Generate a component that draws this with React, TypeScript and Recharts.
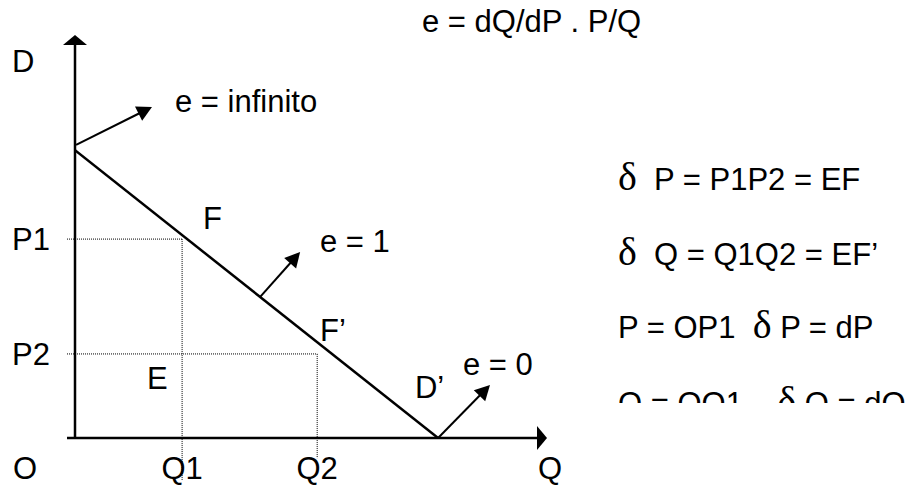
import { LineChart, Line, XAxis, YAxis, ReferenceLine, ReferenceDot } from "recharts";

// demand curve D - D'
const DEMAND_Q = [0, 10];
const DEMAND_P = [10, 0];

// axis extents
const Q_MAX = 13;
const P_MAX = 14;
const AXIS_START = -0.22;

// tick values and labels
const Q_TICKS = [2.95, 6.67];
const Q_TICK_LABELS = ["Q1", "Q2"];
const P_TICKS = [6.91, 2.92];
const P_TICK_LABELS = ["P1", "P2"];
// how far the dotted verticals drop below the Q axis
const GUIDE_DROP = [-1.46, -0.7];

// elasticity arrows
const ARROW_BASE_Q = [0.03, 5.1, 10];
const ARROW_BASE_P = [10.18, 4.9, 0];
const ARROW_TIP_Q = [2.12, 6.2, 11.43];
const ARROW_TIP_P = [11.5, 6.46, 1.84];

// text notes on the diagram
const NOTE_TEXT = ["e = dQ/dP . P/Q", "D", "e = infinito", "F", "e = 1", "F\u2019", "E", "D\u2019", "e = 0", "O", "Q"];
const NOTE_Q = [9.557, -1.735, 2.754, 3.525, 6.748, 6.748, 1.983, 9.364, 10.686, -1.708, 12.75];
const NOTE_P = [14.1, 12.71, 11.325, 7.26, 6.46, 3.37, 1.7, 1.39, 2.19, -1.42, -1.42];

// formulas on the right
const FORMULAS = ["δ  P = P1P2 = EF", "δ  Q = Q1Q2 = EF\u2019", "P = OP1  δ P = dP", "Q = OQ1    δ Q = dQ"];
const FORMULA_Q = 14.955;
const FORMULA_P = [8.615, 6.01, 3.474, 0.834];

const FONT = "'Liberation Sans', Arial, sans-serif";
const SERIF = "'Liberation Serif', 'Times New Roman', serif";
const SIZE = 31;

const data = DEMAND_Q.map((q, i) => ({ q, p: DEMAND_P[i] }));

function arrowShape(head: number, half: number, width: number) {
  return (props: any) => {
    const { x1, y1, x2, y2 } = props;
    const dx = x2 - x1;
    const dy = y2 - y1;
    const len = Math.hypot(dx, dy) || 1;
    const ux = dx / len;
    const uy = dy / len;
    const bx = x2 - ux * head;
    const by = y2 - uy * head;
    const pts = `${x2},${y2} ${bx - uy * half},${by + ux * half} ${bx + uy * half},${by - ux * half}`;
    return (
      <g>
        <line x1={x1} y1={y1} x2={bx + ux} y2={by + uy} stroke="#000" strokeWidth={width} />
        <polygon points={pts} fill="#000" />
      </g>
    );
  };
}

const axisArrow = arrowShape(10, 12, 2.5);
const smallArrow = arrowShape(15, 8, 2);

const noteShape = (text: string) => (props: any) => (
  <text x={props.cx} y={props.cy} fontFamily={FONT} fontSize={SIZE} fill="#000" style={{ whiteSpace: "pre" }}>
    {text}
  </text>
);

const formulaShape = (text: string, clipped: boolean) => (props: any) => {
  const parts = text.split("δ");
  const id = "formula-clip";
  return (
    <g>
      {clipped && (
        <defs>
          <clipPath id={id}>
            <rect x={0} y={0} width={2000} height={props.cy - 11} />
          </clipPath>
        </defs>
      )}
      <text
        x={props.cx}
        y={props.cy}
        fontFamily={FONT}
        fontSize={SIZE}
        fill="#000"
        style={{ whiteSpace: "pre" }}
        clipPath={clipped ? `url(#${id})` : undefined}
      >
        {parts.map((part, i) => (
          <tspan key={i}>
            {i > 0 && (
              <tspan fontFamily={SERIF} fontSize={40}>
                δ
              </tspan>
            )}
            {part}
          </tspan>
        ))}
      </text>
    </g>
  );
};

const QTick = (props: any) => {
  const { x, y, index } = props;
  return (
    <text x={x} y={y + 41} textAnchor="middle" fontFamily={FONT} fontSize={SIZE} fill="#000">
      {Q_TICK_LABELS[index]}
    </text>
  );
};

const PTick = (props: any) => {
  const { x, y, index } = props;
  return (
    <text x={x - 63} y={y + 11} textAnchor="start" fontFamily={FONT} fontSize={SIZE} fill="#000">
      {P_TICK_LABELS[index]}
    </text>
  );
};

export default function App() {
  return (
    <div style={{ width: 919, height: 485, background: "#fff", overflow: "hidden" }}>
      <style>{"body{margin:0;background:#fff}"}</style>
      <LineChart width={919} height={485} data={data} margin={{ top: 35, right: 372, bottom: 0, left: 0 }}>
        <XAxis
          dataKey="q"
          type="number"
          domain={[0, Q_MAX]}
          allowDataOverflow
          ticks={Q_TICKS}
          tick={<QTick />}
          tickSize={0}
          tickMargin={0}
          tickLine={false}
          axisLine={false}
          height={47}
          interval={0}
        />
        <YAxis
          type="number"
          domain={[0, P_MAX]}
          allowDataOverflow
          ticks={P_TICKS}
          tick={<PTick />}
          tickSize={0}
          tickMargin={0}
          tickLine={false}
          axisLine={false}
          width={75}
          interval={0}
        />

        {/* dotted guides for P1/Q1 and P2/Q2 */}
        {P_TICKS.map((p, i) => (
          <ReferenceLine
            key={`h${i}`}
            segment={[{ x: AXIS_START, y: p }, { x: Q_TICKS[i], y: p }]}
            stroke="#000"
            strokeWidth={1}
            strokeDasharray="1 1"
            ifOverflow="visible"
          />
        ))}
        {Q_TICKS.map((q, i) => (
          <ReferenceLine
            key={`v${i}`}
            segment={[{ x: q, y: P_TICKS[i] }, { x: q, y: GUIDE_DROP[i] }]}
            stroke="#000"
            strokeWidth={1}
            strokeDasharray="1 1"
            ifOverflow="visible"
          />
        ))}

        {/* axes with arrowheads */}
        <ReferenceLine segment={[{ x: 0, y: 0 }, { x: 0, y: P_MAX }]} ifOverflow="visible" shape={axisArrow} />
        <ReferenceLine segment={[{ x: AXIS_START, y: 0 }, { x: Q_MAX, y: 0 }]} ifOverflow="visible" shape={axisArrow} />

        <Line
          dataKey="p"
          stroke="#000"
          strokeWidth={2.5}
          dot={false}
          activeDot={false}
          isAnimationActive={false}
        />

        {ARROW_BASE_Q.map((q, i) => (
          <ReferenceLine
            key={`a${i}`}
            segment={[{ x: q, y: ARROW_BASE_P[i] }, { x: ARROW_TIP_Q[i], y: ARROW_TIP_P[i] }]}
            ifOverflow="visible"
            shape={smallArrow}
          />
        ))}

        {NOTE_TEXT.map((t, i) => (
          <ReferenceDot key={`n${i}`} x={NOTE_Q[i]} y={NOTE_P[i]} r={0} ifOverflow="visible" shape={noteShape(t)} />
        ))}

        {FORMULAS.map((t, i) => (
          <ReferenceDot
            key={`f${i}`}
            x={FORMULA_Q}
            y={FORMULA_P[i]}
            r={0}
            ifOverflow="visible"
            shape={formulaShape(t, i === FORMULAS.length - 1)}
          />
        ))}
      </LineChart>
    </div>
  );
}
